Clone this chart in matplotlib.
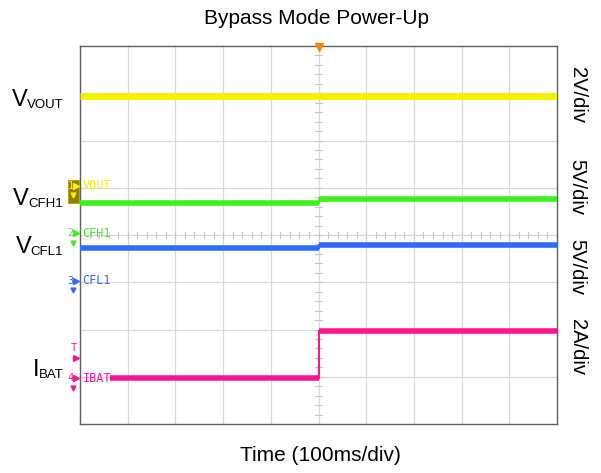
import matplotlib.pyplot as plt
import numpy as np
from matplotlib.patches import Rectangle

plt.rcParams['font.family'] = ['Liberation Sans', 'DejaVu Sans']

# time axis in divisions (0..10, trigger at 5), vertical in divisions (0..8)
trigger_div = 5.0

# trace levels (divisions from bottom) before / after trigger
channels = ['VOUT', 'CFH1', 'CFL1', 'IBAT']
colors = ['#f5f000', '#3cf01e', '#2f6bff', '#ff1493']
start_div = [0.0, 0.0, 0.0, 0.63]
level_before = [6.94, 4.68, 3.72, 0.97]
level_after = [6.94, 4.76, 3.79, 1.97]
ground_marker = [5.04, 4.04, 3.03, 0.97]

left_main = ['V', 'V', 'V', 'I']
left_sub = ['VOUT', 'CFH1', 'CFL1', 'BAT']
left_baseline = [6.73, 4.635, 3.62, 1.016]
scale_labels = ['2V/div', '5V/div', '5V/div', '2A/div']
scale_label_y = [6.96, 5.02, 3.32, 1.63]

fig = plt.figure(figsize=(6.01, 4.73), dpi=100)
ax = fig.add_axes([80 / 601, 49 / 473, 477 / 601, 378 / 473])
ax.set_xlim(0, 10)
ax.set_ylim(0, 8)

# grid
for gx in range(1, 10):
    ax.axvline(gx, color='#d9d9d9', lw=0.9, zorder=0)
for gy in range(1, 8):
    ax.axhline(gy, color='#d9d9d9', lw=0.9, zorder=0)
# minor ticks on the center lines
for mx in np.arange(0, 10.01, 0.2):
    ax.plot([mx, mx], [3.93, 4.07], color='#c8c8c8', lw=0.8, zorder=0)
for my in np.arange(0, 8.01, 0.2):
    ax.plot([4.93, 5.07], [my, my], color='#c8c8c8', lw=0.8, zorder=0)

# traces: thick flat parts, thin edge at the trigger
for i in range(len(channels)):
    lw = 5.0 if i == 0 else 4.0
    ax.plot([start_div[i], trigger_div], [level_before[i]] * 2, color=colors[i],
            lw=lw, solid_capstyle='butt', zorder=3)
    ax.plot([trigger_div, 10], [level_after[i]] * 2, color=colors[i],
            lw=lw, solid_capstyle='butt', zorder=3)
    ax.plot([trigger_div, trigger_div], [level_before[i], level_after[i]],
            color=colors[i], lw=1.5, zorder=3)

# channel markers inside / left of the grid
ax.add_patch(Rectangle((-0.25, 4.68), 0.23, 0.48, fc='#8a7c00', ec='#b8a800',
                       lw=0.8, clip_on=False, zorder=4))
for i in range(len(channels)):
    y = ground_marker[i]
    ax.text(0.05, y, channels[i], color=colors[i], fontsize=8.5,
            family='DejaVu Sans Mono', va='center', ha='left', zorder=4)
    ax.text(-0.2, y, str(i + 1), color=colors[i], fontsize=7.5, va='center',
            ha='center', family='DejaVu Sans Mono', clip_on=False, zorder=5)
    ax.plot(-0.08, y, marker='>', ms=4, color=colors[i], clip_on=False, zorder=5)
    ax.plot(-0.14, y - 0.2, marker='v', ms=3.5, color=colors[i], clip_on=False,
            zorder=5)

# trigger level marker
ax.text(-0.12, 1.6, 'T', color='#ff1493', fontsize=7.5, va='center', ha='center',
        family='DejaVu Sans Mono', clip_on=False)
ax.plot(-0.08, 1.4, marker='>', ms=4, color='#ff1493', clip_on=False)
# trigger position marker
ax.plot(trigger_div, 7.97, marker='v', ms=6, color='#f08a00', clip_on=False, zorder=5)

for s in ax.spines.values():
    s.set_color('#606060')
    s.set_linewidth(1.0)
ax.set_xticks([])
ax.set_yticks([])

# left trace labels: big letter plus small subscript, right aligned
renderer = fig.canvas.get_renderer()
inv = ax.transData.inverted()
for main, sub, y in zip(left_main, left_sub, left_baseline):
    t = ax.text(-0.35, y - 0.045, sub, fontsize=9.5, ha='right', va='baseline',
                clip_on=False)
    bb = t.get_window_extent(renderer)
    x_left = inv.transform((bb.x0, bb.y0))[0]
    ax.text(x_left + 0.01, y, main, fontsize=17, ha='right', va='baseline',
            clip_on=False)

# right scale labels
for lab, y in zip(scale_labels, scale_label_y):
    ax.text(10.42, y, lab, fontsize=14.5, rotation=-90, ha='center', va='center',
            clip_on=False)

fig.text(317 / 601, 1 - 19 / 473, 'Bypass Mode Power-Up', fontsize=15,
         ha='center', va='center')
fig.text(320 / 601, 18 / 473, 'Time (100ms/div)', fontsize=15,
         ha='center', va='center')

fig.savefig('out.png', dpi=100)
